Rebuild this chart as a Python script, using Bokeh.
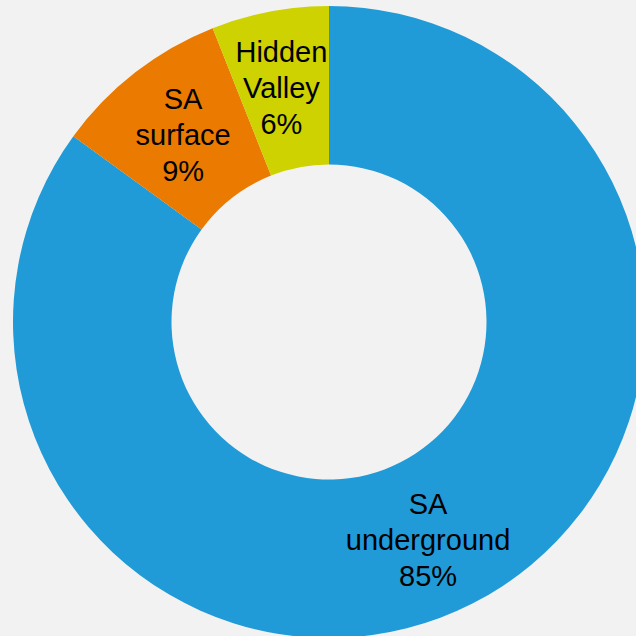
import numpy as np
from bokeh.plotting import figure
from bokeh.models import ColumnDataSource
from bokeh.core.properties import value
from bokeh.embed import file_html
from bokeh.resources import INLINE

# Data
categories = ["SA\nunderground", "SA\nsurface", "Hidden\nValley"]
shares = [85, 9, 6]
colors = ["#219BD7", "#EB7A00", "#CDD200"]

# Layout (page-pixel coordinates; figure placed at 0,0)
W = H = 636
cx, cy_page = 328.5, 321.5
r_out, r_in = 316, 157.5
label_r = 238
label_dx = [-9, 0, -3]
label_dy = [6, 1, 0]

def py(page_y):
    return 636 - page_y

vals = np.array(shares, dtype=float)
frac = vals / vals.sum()
cum = np.concatenate([[0], np.cumsum(frac)])
# clockwise from 12 o'clock
start = np.pi / 2 - 2 * np.pi * cum[1:]
end = np.pi / 2 - 2 * np.pi * cum[:-1]
mid = np.pi / 2 - 2 * np.pi * (cum[:-1] + frac / 2)

lx = cx + label_r * np.cos(mid) + np.array(label_dx)
ly = py(cy_page) + label_r * np.sin(mid) - np.array(label_dy)
labels = [f"{c}\n{s}%" for c, s in zip(categories, shares)]

src = ColumnDataSource(dict(start=start, end=end, color=colors))
lsrc = ColumnDataSource(dict(x=lx, y=ly, text=labels))

p = figure(width=W, height=H, x_range=(0, 636), y_range=(0, 636),
           output_backend="svg", toolbar_location=None, min_border=0)
p.axis.visible = False
p.grid.visible = False
p.outline_line_color = None
p.background_fill_color = "#F2F2F2"
p.border_fill_color = "#F2F2F2"

p.annular_wedge(x=cx, y=py(cy_page), inner_radius=r_in, outer_radius=r_out,
                start_angle="start", end_angle="end", color="color",
                line_color=None, source=src)
p.text(x="x", y="y", text="text", source=lsrc, text_align="center",
       text_baseline="middle", text_font=value("Liberation Sans"),
       text_font_size="29px", text_color="#000000", text_line_height=1.12)

html = file_html(p, INLINE)
html = html.replace("<head>", "<head><style>html,body{margin:0;padding:0;overflow:hidden;background:#F2F2F2;}</style>", 1)
open("out.html", "w").write(html)
